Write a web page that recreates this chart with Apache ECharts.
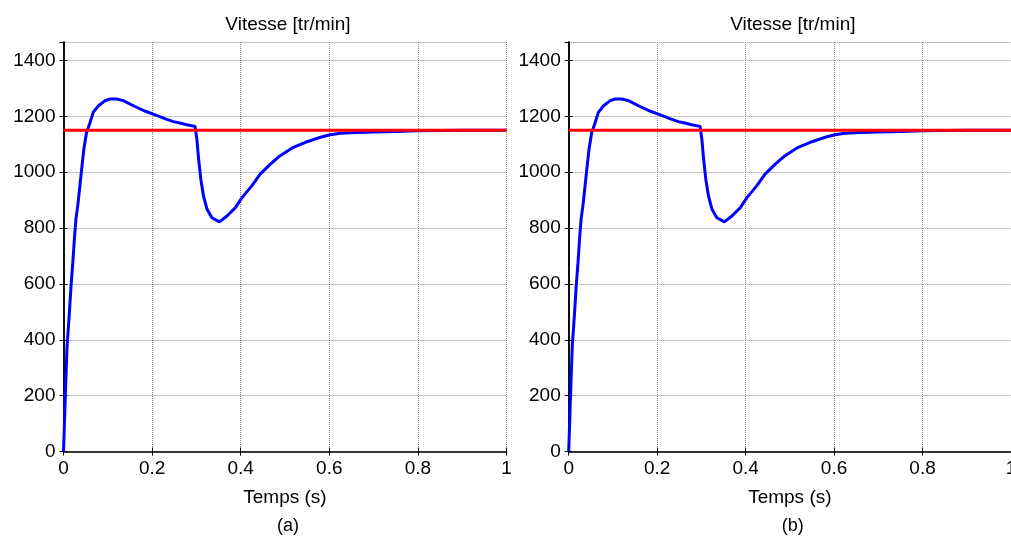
<!DOCTYPE html>
<html>
<head>
<meta charset="utf-8">
<script src="https://cdn.jsdelivr.net/npm/echarts@6/dist/echarts.min.js"></script>
<style>
  html, body { margin: 0; padding: 0; background: #fff; }
  #chart { width: 1011px; height: 536px; }
</style>
</head>
<body>
<div id="chart"></div>
<script>
// time (s) and speed (tr/min)
const time = [0, 0.002, 0.005, 0.008, 0.013, 0.017, 0.021, 0.0245, 0.028, 0.033, 0.037, 0.041, 0.046, 0.052, 0.06, 0.067, 0.079, 0.094, 0.105, 0.12, 0.135, 0.16, 0.185, 0.21, 0.23, 0.248, 0.265, 0.278, 0.297, 0.301, 0.305, 0.31, 0.316, 0.324, 0.335, 0.352, 0.369, 0.388, 0.403, 0.425, 0.444, 0.467, 0.489, 0.519, 0.55, 0.58, 0.602, 0.625, 0.66, 0.7, 0.75, 0.8, 0.85, 0.9, 0.95, 1.0];
const speed = [0, 95, 240, 376, 490, 592, 676, 759, 831, 891, 951, 1011, 1083, 1142, 1178, 1214, 1238, 1256, 1262, 1262, 1256, 1236, 1218, 1203, 1191, 1181, 1175, 1170, 1164, 1119, 1047, 975, 915, 867, 837, 822, 843, 873, 909, 951, 993, 1029, 1059, 1089, 1109, 1125, 1134, 1139, 1142, 1144, 1146, 1148, 1149, 1150, 1150, 1150];
const refTime = [0, 1];
const refSpeed = [1150, 1150];
const xTicks = [0, 0.2, 0.4, 0.6, 0.8, 1];
const yTicks = [0, 200, 400, 600, 800, 1000, 1200, 1400];
const panels = ['(a)', '(b)'];

const FONT = 'Liberation Sans, Arial, sans-serif';
const yMax = 1466;

const speedData = time.map((t, i) => [t, speed[i]]);
const refData = refTime.map((t, i) => [t, refSpeed[i]]);

const grids = [
  { left: 63.5, right: 504.5, top: 42, bottom: 84.5, outerBoundsMode: 'none', containLabel: false },
  { left: 568.7, right: 0, top: 42, bottom: 84.5, outerBoundsMode: 'none', containLabel: false }
];

const xAxes = [], yAxes = [], series = [], titles = [];
grids.forEach((g, k) => {
  const centerX = g.left + (1011 - g.left - g.right) / 2 - 2;
  xAxes.push({
    type: 'value', gridIndex: k, min: xTicks[0], max: xTicks[xTicks.length - 1], interval: 0.2,
    name: 'Temps (s)', nameLocation: 'middle', nameGap: 37,
    nameTextStyle: { fontSize: 19, fontFamily: FONT, color: '#000' },
    axisLine: { lineStyle: { color: '#000', width: 1.5 } },
    axisTick: { inside: true, length: 4, lineStyle: { color: '#000' } },
    axisLabel: { fontSize: 19, fontFamily: FONT, color: '#000', margin: 8, formatter: v => String(v) },
    splitLine: { show: true, lineStyle: { color: '#888', type: [1, 1], width: 1 } }
  });
  xAxes.push({
    type: 'value', gridIndex: k, position: 'top', min: 0, max: 1, interval: 0.2,
    axisLine: { lineStyle: { color: '#333', width: 1.5 } },
    axisTick: { inside: true, length: 4, lineStyle: { color: '#000' } },
    axisLabel: { show: false }, splitLine: { show: false }
  });
  yAxes.push({
    type: 'value', gridIndex: k, min: yTicks[0], max: yMax, interval: 200,
    axisLine: { show: true, lineStyle: { color: '#000', width: 1.5 } },
    axisTick: { show: true, inside: true, length: 4, lineStyle: { color: '#000' } },
    axisLabel: { fontSize: 19, fontFamily: FONT, color: '#000', margin: 8, showMaxLabel: false, formatter: v => String(v) },
    splitLine: { show: true, lineStyle: { color: '#888', type: [1, 1], width: 1 } }
  });
  yAxes.push({
    type: 'value', gridIndex: k, position: 'right', min: 0, max: yMax, interval: 200,
    axisLine: { show: true, lineStyle: { color: '#000', width: 1.5 } },
    axisTick: { show: true, inside: true, length: 4, lineStyle: { color: '#000' } },
    axisLabel: { show: false }, splitLine: { show: false }
  });
  series.push({
    type: 'line', xAxisIndex: 2 * k, yAxisIndex: 2 * k, data: speedData,
    showSymbol: false, lineStyle: { color: '#0000ff', width: 3 }, animation: false
  });
  series.push({
    type: 'line', xAxisIndex: 2 * k, yAxisIndex: 2 * k, data: refData,
    showSymbol: false, lineStyle: { color: '#ff0000', width: 3 }, animation: false
  });
  titles.push({
    text: 'Vitesse [tr/min]', left: centerX, top: 10, textAlign: 'center',
    textStyle: { fontSize: 19, fontWeight: 'normal', fontFamily: FONT, color: '#000' }
  });
  titles.push({
    text: panels[k], left: centerX, top: 512, textAlign: 'center',
    textStyle: { fontSize: 18, fontWeight: 'normal', fontFamily: FONT, color: '#000' }
  });
});

const chart = echarts.init(document.getElementById('chart'));
chart.setOption({
  animation: false,
  title: titles,
  grid: grids,
  xAxis: xAxes,
  yAxis: yAxes,
  series: series
});
</script>
</body>
</html>
